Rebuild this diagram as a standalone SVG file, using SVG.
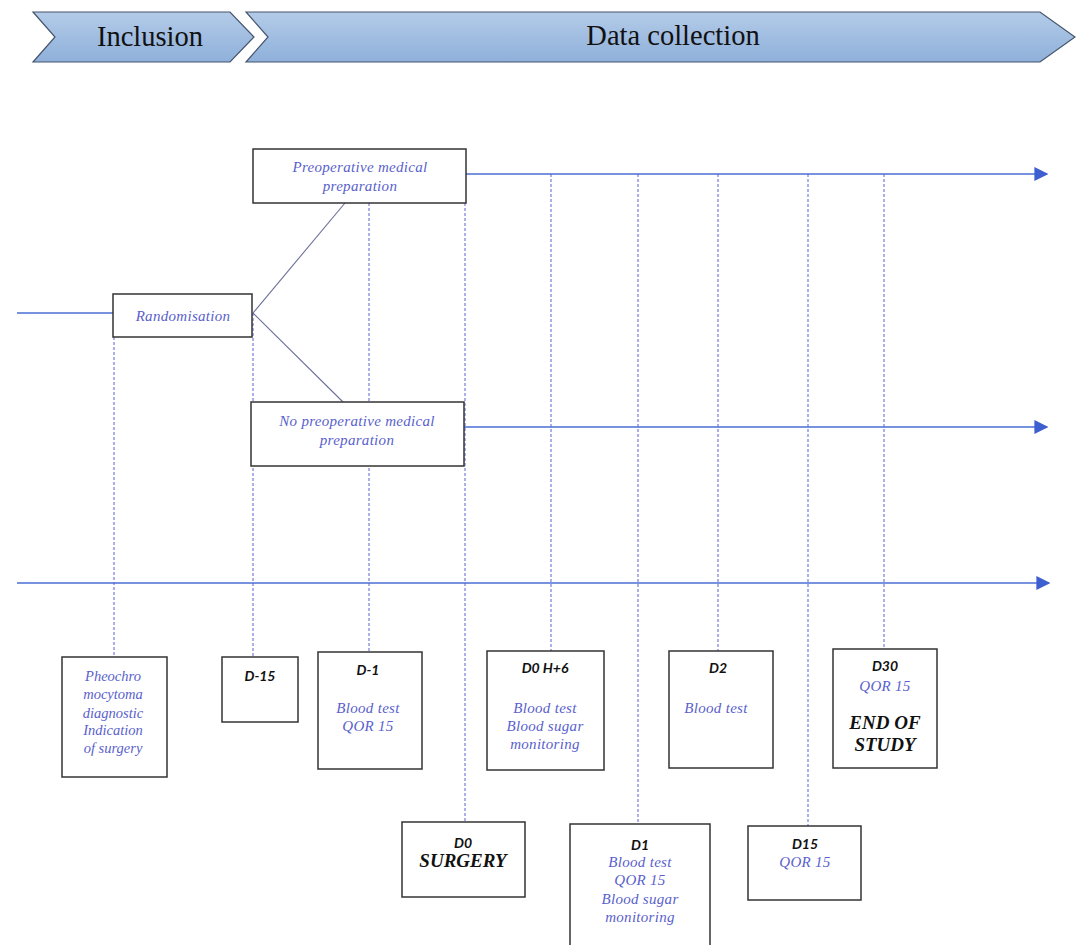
<svg xmlns="http://www.w3.org/2000/svg" width="1076" height="945" viewBox="0 0 1076 945">
<defs>
<linearGradient id="hdr" x1="0" y1="0" x2="0" y2="1">
<stop offset="0" stop-color="#b3cbe8"/>
<stop offset="1" stop-color="#8fb0da"/>
</linearGradient>
<marker id="arr" viewBox="0 0 10 10" refX="9" refY="5" markerWidth="14" markerHeight="14" markerUnits="userSpaceOnUse" orient="auto">
<path d="M0,0 L10,5 L0,10 z" fill="#3e5fd0"/>
</marker>
<style>
.hdr{fill:url(#hdr);stroke:#44546c;stroke-width:1.2}
.htxt{font-family:"Liberation Serif",serif;font-size:28.5px;fill:#111}
.box{fill:#fff;stroke:#333;stroke-width:1.5}
.it{font-family:"Liberation Serif",serif;font-style:italic;font-size:15px;letter-spacing:0.3px;fill:#5a5fcc;text-anchor:middle}
.it2{font-family:"Liberation Serif",serif;font-style:italic;font-size:14.5px;fill:#5a5fcc;text-anchor:middle}
.lb{font-family:Lato,"Liberation Sans",sans-serif;font-style:italic;font-weight:bold;font-size:14px;fill:#111;text-anchor:middle}
.big{font-family:"Liberation Serif",serif;font-style:italic;font-weight:bold;font-size:19px;fill:#111;text-anchor:middle}
.ln{stroke:#4a6fd4;stroke-width:1.3;fill:none}
.dg{stroke:#6b6f9a;stroke-width:1.1;fill:none}
.ds{stroke:#5b63d0;stroke-width:1;stroke-dasharray:3,2;fill:none}
</style>
</defs>
<rect width="1076" height="945" fill="#fff"/>
<g id="header-inclusion">
<polygon class="hdr" points="33,12 230,12 254,37 230,62 33,62 55,37"/>
<text class="htxt" x="150" y="46" text-anchor="middle">Inclusion</text>
</g>
<g id="header-data">
<polygon class="hdr" points="246,12 1040,12 1075,37 1040,62 246,62 268,37"/>
<text class="htxt" x="673" y="45" text-anchor="middle">Data collection</text>
</g>
<g id="connectors">
<line class="ln" x1="17" y1="313" x2="113" y2="313"/>
<line class="ln" x1="466" y1="174" x2="1047" y2="174" marker-end="url(#arr)"/>
<line class="ln" x1="464" y1="427" x2="1047" y2="427" marker-end="url(#arr)"/>
<line class="ln" x1="17" y1="583" x2="1049" y2="583" marker-end="url(#arr)"/>
<line class="dg" x1="253" y1="313" x2="345" y2="203"/>
<line class="dg" x1="253" y1="313" x2="343" y2="402"/>
<line class="ds" x1="114" y1="337" x2="114" y2="656"/>
<line class="ds" x1="253" y1="313" x2="253" y2="656"/>
<line class="ds" x1="369" y1="203" x2="369" y2="652"/>
<line class="ds" x1="465" y1="203" x2="465" y2="822"/>
<line class="ds" x1="551" y1="174" x2="551" y2="651"/>
<line class="ds" x1="638" y1="174" x2="638" y2="824"/>
<line class="ds" x1="718" y1="174" x2="718" y2="651"/>
<line class="ds" x1="808" y1="174" x2="808" y2="826"/>
<line class="ds" x1="884" y1="174" x2="884" y2="649"/>
</g>
<g id="preop">
<rect class="box" x="253" y="149" width="213" height="54"/>
<text class="it" x="360" y="172">Preoperative medical</text>
<text class="it" x="360" y="191">preparation</text>
</g>
<g id="randomisation">
<rect class="box" x="113" y="294" width="139" height="43"/>
<text class="it" x="183" y="321">Randomisation</text>
</g>
<g id="nopreop">
<rect class="box" x="251" y="402" width="213" height="64"/>
<text class="it" x="357" y="426">No preoperative medical</text>
<text class="it" x="357" y="445">preparation</text>
</g>
<g id="pheo">
<rect class="box" x="62" y="657" width="105" height="120"/>
<text class="it2" x="113" y="681">Pheochro</text>
<text class="it2" x="113" y="699">mocytoma</text>
<text class="it2" x="113" y="718">diagnostic</text>
<text class="it2" x="113" y="735">Indication</text>
<text class="it2" x="113" y="753">of surgery</text>
</g>
<g id="d-15">
<rect class="box" x="222" y="657" width="76" height="65"/>
<text class="lb" x="260" y="681">D-15</text>
</g>
<g id="d-1">
<rect class="box" x="318" y="652" width="104" height="117"/>
<text class="lb" x="368" y="675">D-1</text>
<text class="it" x="368" y="713">Blood test</text>
<text class="it" x="368" y="731">QOR 15</text>
</g>
<g id="d0">
<rect class="box" x="402" y="822" width="123" height="75"/>
<text class="lb" x="463" y="848">D0</text>
<text class="big" x="463" y="867">SURGERY</text>
</g>
<g id="d0h6">
<rect class="box" x="487" y="651" width="117" height="119"/>
<text class="lb" x="545" y="673">D0 H+6</text>
<text class="it" x="545" y="713">Blood test</text>
<text class="it" x="545" y="731">Blood sugar</text>
<text class="it" x="545" y="749">monitoring</text>
</g>
<g id="d1">
<rect class="box" x="570" y="824" width="140" height="125"/>
<text class="lb" x="640" y="850">D1</text>
<text class="it" x="640" y="867">Blood test</text>
<text class="it" x="640" y="885">QOR 15</text>
<text class="it" x="640" y="904">Blood sugar</text>
<text class="it" x="640" y="922">monitoring</text>
</g>
<g id="d2">
<rect class="box" x="669" y="651" width="104" height="117"/>
<text class="lb" x="718" y="673">D2</text>
<text class="it" x="716" y="713">Blood test</text>
</g>
<g id="d15">
<rect class="box" x="748" y="826" width="113" height="74"/>
<text class="lb" x="805" y="849">D15</text>
<text class="it" x="805" y="867">QOR 15</text>
</g>
<g id="d30">
<rect class="box" x="833" y="649" width="104" height="119"/>
<text class="lb" x="885" y="671">D30</text>
<text class="it" x="885" y="691">QOR 15</text>
<text class="big" x="885" y="729">END OF</text>
<text class="big" x="885" y="751">STUDY</text>
</g>
</svg>
